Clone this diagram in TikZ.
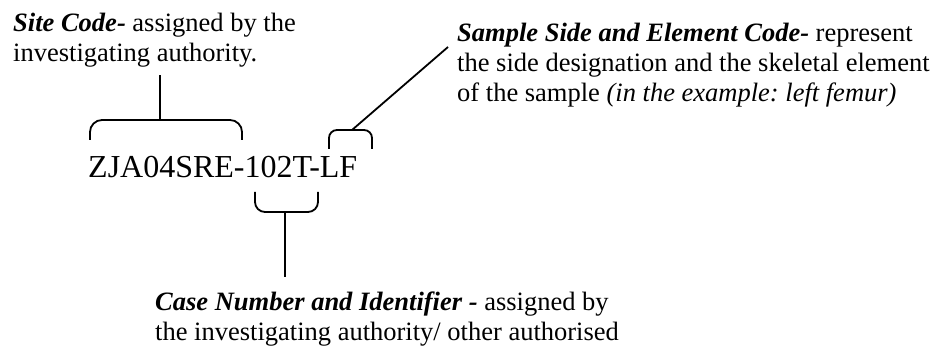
\documentclass[tikz,border=0pt]{standalone}
\usepackage{fontspec}
\setmainfont{Liberation Serif}
\usetikzlibrary{positioning}
\frenchspacing

\tikzset{
  lbl/.style={anchor=base west, inner sep=0pt, align=left, font=\fontsize{26.5}{30}\selectfont},
  codetext/.style={anchor=base west, inner sep=0pt, font=\fontsize{32}{36}\selectfont},
  brace/.style={line width=1.8pt, rounded corners=#1},
  brace/.default=12pt,
  stem/.style={line width=1.8pt},
}

\begin{document}
\begin{tikzpicture}[x=1pt,y=-1pt]
\useasboundingbox (0,0) rectangle (936,347);
% labels (placed at the baseline of their last line)
\node[lbl] (sitelbl) at (13,62) {\textbf{\textit{Site Code-}} assigned by the\\investigating authority.};
\node[lbl] (samplelbl) at (457,102) {\textbf{\textit{Sample Side and Element Code-}} represent\\the side designation and the skeletal element\\of the sample \textit{(in the example: left femur)}};
\node[lbl] (caselbl) at (155,340) {\textbf{\textit{Case Number and Identifier -}} assigned by\\the investigating authority/ other authorised};
% the code itself
\node[codetext] (code) at (88,178) {ZJA04SRE-102T-LF};

% brackets
\draw[brace] (90,140) -- (90,120) -- (242,120) -- (242,140);
\draw[brace=8pt] (329,149) -- (329,130) -- (372,130) -- (372,149);
\draw[brace=10pt] (255,192) -- (255,212) -- (318,212) -- (318,192);
\coordinate (sitebr) at (160,120);
\coordinate (samplebr) at (352,130);
\coordinate (casebr) at (285,212);
\coordinate (siteend) at (160,75);
\coordinate (sampleend) at (448,47);
\coordinate (caseend) at (285,277);

% stems to the labels
\draw[stem] (sitebr) -- (siteend);
\draw[stem] (samplebr) -- (sampleend);
\draw[stem] (casebr) -- (caseend);
\end{tikzpicture}
\end{document}
